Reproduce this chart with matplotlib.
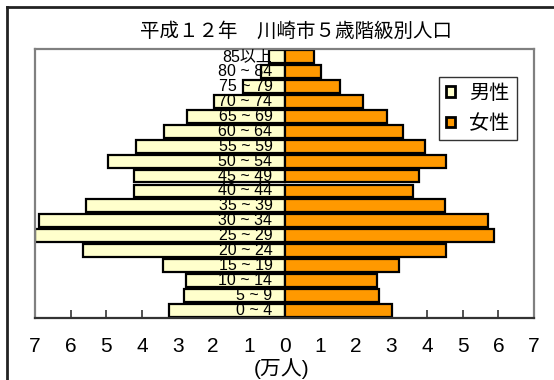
import numpy as np
import matplotlib
matplotlib.use("Agg")
import matplotlib.pyplot as plt
from matplotlib.lines import Line2D

# 年齢階級 (bottom -> top)
age_groups = ["0 ~ 4", "5 ~ 9", "10 ~ 14", "15 ~ 19", "20 ~ 24", "25 ~ 29",
              "30 ~ 34", "35 ~ 39", "40 ~ 44", "45 ~ 49", "50 ~ 54", "55 ~ 59",
              "60 ~ 64", "65 ~ 69", "70 ~ 74", "75 ~ 79", "80 ~ 84", "85以上"]

# 人口 (万人)
male = [3.25, 2.83, 2.75, 3.42, 5.65, 7.00, 6.88, 5.56, 4.23, 4.23,
        4.95, 4.17, 3.38, 2.73, 1.98, 1.16, 0.67, 0.43]
female = [3.03, 2.66, 2.59, 3.20, 4.54, 5.89, 5.72, 4.50, 3.60, 3.78,
          4.54, 3.93, 3.33, 2.88, 2.19, 1.57, 1.02, 0.83]

x_ticks = [-7, -6, -5, -4, -3, -2, -1, 0, 1, 2, 3, 4, 5, 6, 7]

title = "平成１２年　川崎市５歳階級別人口"
x_label = "(万人)"
legend_labels = ["男性", "女性"]

male_color = "#FFFFCC"
female_color = "#FF9900"
fonts = ["Liberation Sans", "Noto Sans CJK JP"]
narrow_fonts = ["Liberation Sans Narrow", "Liberation Sans", "Noto Sans CJK JP"]

W, H = 554, 380
fig = plt.figure(figsize=(W / 100, H / 100), dpi=100)

# plot area in pixels: left 35, right 534, top 49, bottom 318
ax = fig.add_axes([35 / W, 1 - 318 / H, (534 - 35) / W, (318 - 49) / H])

y = np.arange(len(age_groups))
ax.barh(y, -np.array(male), height=0.86, color=male_color,
        edgecolor="black", linewidth=1.6, label=legend_labels[0], zorder=2)
ax.barh(y, female, height=0.86, color=female_color,
        edgecolor="black", linewidth=1.6, label=legend_labels[1], zorder=2)

# age labels sit on top of the male bars, right aligned near zero
for yi, name in zip(y, age_groups):
    ax.text(-0.34, yi, name, ha="right", va="center", fontsize=11.5,
            family=narrow_fonts, zorder=3)

ax.set_xlim(-7, 7)
ax.set_ylim(-0.5, len(age_groups) - 0.5)
ax.set_yticks([])
ax.set_xticks(x_ticks)
ax.set_xticklabels([str(abs(t)) for t in x_ticks], fontsize=15, family=fonts)
ax.tick_params(axis="x", direction="in", length=6, width=1.2,
               color="#333333", pad=14)

for side in ["left", "right", "top"]:
    ax.spines[side].set_color("#808080")
    ax.spines[side].set_linewidth(1.6)
ax.spines["bottom"].set_color("#333333")
ax.spines["bottom"].set_linewidth(1.6)

leg = ax.legend(loc="upper left", bbox_to_anchor=((439 - 35) / 499, (318 - 77) / 269),
                borderaxespad=0, fancybox=False, frameon=True, edgecolor="black",
                prop={"family": fonts, "size": 14.5}, handlelength=0.45,
                handleheight=0.45, handletextpad=0.7, labelspacing=0.55,
                borderpad=0.35)
leg.get_frame().set_linewidth(1.0)
for patch in leg.get_patches():
    patch.set_linewidth(2.0)

fig.text(296 / W, 1 - 31 / H, title, ha="center", va="center",
         fontsize=14, family=["Noto Sans CJK JP", "DejaVu Sans"])
fig.text(282 / W, 1 - 369 / H, x_label, ha="center", va="center",
         fontsize=15, family=fonts)

# outer chart border (only top and left visible)
fig.add_artist(Line2D([6.5 / W, 1.0], [1 - 6.5 / H, 1 - 6.5 / H],
                      transform=fig.transFigure, color="#222222", linewidth=2))
fig.add_artist(Line2D([6.5 / W, 6.5 / W], [0.0, 1 - 6.5 / H],
                      transform=fig.transFigure, color="#222222", linewidth=2))

fig.savefig("out.png", dpi=100)
